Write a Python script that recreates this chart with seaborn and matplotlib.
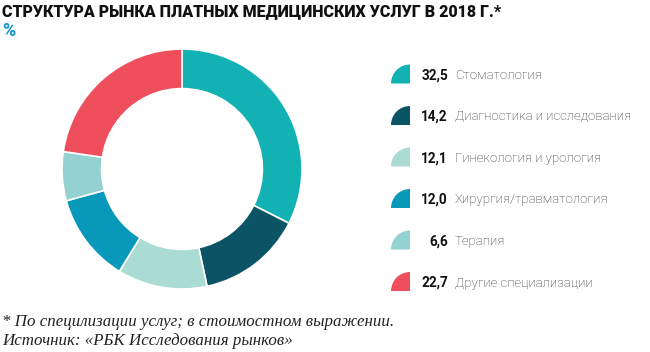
# Структура рынка платных медицинских услуг, донат-диаграмма
import seaborn as sns
import matplotlib.pyplot as plt
from matplotlib.patches import Wedge

categories = ['Стоматология', 'Диагностика и исследования', 'Гинекология и урология',
              'Хирургия/травматология', 'Терапия', 'Другие специализации']
values = [32.5, 14.2, 12.1, 12.0, 6.6, 22.7]
value_labels = ['32,5', '14,2', '12,1', '12,0', '6,6', '22,7']
colors = ['#12b1b3', '#0b5465', '#abdcd3', '#0898b9', '#93d2d0', '#ef4f5d']

sns.set_theme(style='white')
plt.rcParams['font.family'] = ['Roboto', 'DejaVu Sans']

W, H = 650, 352
fig = plt.figure(figsize=(W / 100, H / 100), dpi=100)

# donut
cx, cy, r = 182, 169, 120
ax = fig.add_axes([(cx - r) / W, (H - cy - r) / H, 2 * r / W, 2 * r / H])
ax.pie(values, colors=colors, startangle=90, counterclock=False, radius=1,
       wedgeprops=dict(width=0.33, edgecolor='white', linewidth=1.2))
ax.set_xlim(-1, 1)
ax.set_ylim(-1, 1)
ax.set_aspect('equal')
ax.axis('off')

# overlay in pixel coords for text and legend
ov = fig.add_axes([0, 0, 1, 1], zorder=-1)
ov.set_xlim(0, W)
ov.set_ylim(0, H)
ov.axis('off')

fig.text(2 / W, 1 - 11 / H, 'СТРУКТУРА РЫНКА ПЛАТНЫХ МЕДИЦИНСКИХ УСЛУГ В 2018 Г.*',
         fontsize=11.5, fontweight='black', color='#111111', va='center', ha='left')
fig.text(2 / W, 1 - 31 / H, '%', fontsize=13, fontweight='black',
         color='#1a9cc4', va='center', ha='left')

row0, step = 75.5, 41.5
for i, (cat, lab, col) in enumerate(zip(categories, value_labels, colors)):
    y = H - (row0 + i * step)
    ov.add_patch(Wedge((410, y - 8), 19, 90, 180, facecolor=col, edgecolor='none'))
    ov.text(448, y, lab, fontsize=9.8, fontweight='bold', color='#111111',
            ha='right', va='center')
    ov.text(455, y, cat, fontsize=9.5, fontweight='light', color='#2e2e2e',
            ha='left', va='center')

fig.text(2 / W, 1 - 322 / H, '* По специлизации услуг; в стоимостном выражении.',
         fontsize=12.2, style='italic', family='Liberation Serif', color='#222222',
         va='center', ha='left')
fig.text(2 / W, 1 - 341 / H, 'Источник: «РБК Исследования рынков»',
         fontsize=12.2, style='italic', family='Liberation Serif', color='#222222',
         va='center', ha='left')

plt.savefig('out.png', dpi=100)
